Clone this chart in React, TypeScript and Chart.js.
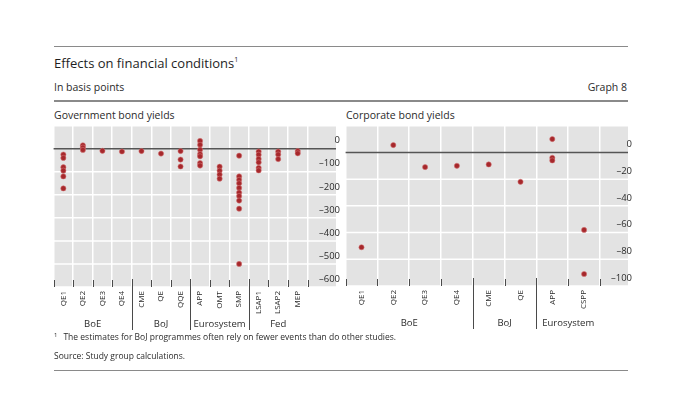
import React, { useEffect, useRef } from 'react';
import { Chart, registerables } from 'chart.js';

Chart.register(...registerables);

const FONT = '"Open Sans", "Noto Sans", sans-serif';
const TEXT = '#2b2b2b';

// ---- Government bond yields ----
const govCategories = ['QE1', 'QE2', 'QE3', 'QE4', 'CME', 'QE', 'QQE', 'APP', 'OMT', 'SMP', 'LSAP1', 'LSAP2', 'MEP'];
const govGroups = ['BoE', 'BoJ', 'Eurosystem', 'Fed'];
const govGroupSizes = [4, 3, 3, 3];
const govQE1 = [-25, -40, -80, -95, -120, -172];
const govQE2 = [15, 5, -5];
const govQE3 = [-9];
const govQE4 = [-12];
const govCME = [-10];
const govBoJQE = [-21];
const govQQE = [-10, -47, -77];
const govAPP = [34, 17, -4, -23, -33, -62, -73];
const govOMT = [-78, -95, -112, -130];
const govSMP = [-30, -120, -135, -150, -170, -190, -205, -225, -260, -500];
const govLSAP1 = [-12, -26, -44, -59, -83, -94];
const govLSAP2 = [-12, -25, -45];
const govMEP = [-10, -20];
const govEstimates = [govQE1, govQE2, govQE3, govQE4, govCME, govBoJQE, govQQE, govAPP, govOMT, govSMP, govLSAP1, govLSAP2, govMEP];
const govYMin = -600;
const govYMax = 100;
const govYStep = 100;

// ---- Corporate bond yields ----
const corpCategories = ['QE1', 'QE2', 'QE3', 'QE4', 'CME', 'QE', 'APP', 'CSPP'];
const corpGroups = ['BoE', 'BoJ', 'Eurosystem'];
const corpGroupSizes = [4, 2, 2];
const corpQE1 = [-71];
const corpQE2 = [5.5];
const corpQE3 = [-11];
const corpQE4 = [-10];
const corpCME = [-9];
const corpBoJQE = [-22];
const corpAPP = [10, -4, -6];
const corpCSPP = [-58, -91];
const corpEstimates = [corpQE1, corpQE2, corpQE3, corpQE4, corpCME, corpBoJQE, corpAPP, corpCSPP];
const corpYMin = -100;
const corpYMax = 20;
const corpYStep = 20;

const fmt = (v: number, max: number) => {
  if (v === max) return '';
  if (v < 0) return '\u2013' + Math.abs(v);
  return String(v);
};

const decorPlugin = {
  id: 'panelDecor',
  beforeDraw(chart: any, _args: any, opts: any) {
    const { ctx, chartArea: a } = chart;
    ctx.save();
    ctx.fillStyle = '#e3e3e3';
    ctx.fillRect(a.left, a.top, opts.bgRight - a.left, a.bottom - a.top);
    ctx.restore();
  },
  beforeDatasetsDraw(chart: any, _args: any, opts: any) {
    const { ctx, chartArea: a } = chart;
    const x = chart.scales.x;
    const y = chart.scales.y;
    ctx.save();
    ctx.lineWidth = 1.5;
    ctx.strokeStyle = '#ffffff';
    y.ticks.forEach((t: any) => {
      if (t.value === 0) return;
      const py = y.getPixelForValue(t.value);
      ctx.beginPath();
      ctx.moveTo(a.left, py);
      ctx.lineTo(opts.bgRight, py);
      ctx.stroke();
    });
    const pz = y.getPixelForValue(0);
    ctx.strokeStyle = '#555555';
    ctx.lineWidth = 1.5;
    ctx.beginPath();
    ctx.moveTo(a.left, pz);
    ctx.lineTo(opts.bgRight, pz);
    ctx.stroke();

    // boundary tick marks
    const n = x.ticks.length;
    const half = (x.getPixelForValue(1) - x.getPixelForValue(0)) / 2;
    const boundary = (i: number) => (i === n ? x.getPixelForValue(n - 1) + half : x.getPixelForValue(i) - half);
    ctx.strokeStyle = '#4a4a4a';
    ctx.lineWidth = 1;
    for (let i = 0; i <= n; i++) {
      const px = Math.round(boundary(i)) + 0.5;
      ctx.beginPath();
      ctx.moveTo(px, a.bottom - 7);
      ctx.lineTo(px, a.bottom);
      ctx.stroke();
    }
    // group separators and labels
    let idx = 0;
    ctx.font = `9.5px ${FONT}`;
    ctx.fillStyle = TEXT;
    ctx.textAlign = 'center';
    ctx.textBaseline = 'middle';
    opts.groupSizes.forEach((size: number, gi: number) => {
      const start = boundary(idx);
      const end = boundary(idx + size);
      if (gi > 0) {
        const px = Math.round(start) + 0.5;
        ctx.beginPath();
        ctx.moveTo(px, a.bottom - 8);
        ctx.lineTo(px, a.bottom + opts.sepLen);
        ctx.stroke();
      }
      ctx.fillText(opts.groupNames[gi], (start + end) / 2, a.bottom + opts.groupLabelY);
      idx += size;
    });
    ctx.restore();
  },
};

function buildConfig(
  categories: string[],
  estimates: number[][],
  groupNames: string[],
  groupSizes: number[],
  yMin: number,
  yMax: number,
  yStep: number,
  xHeight: number,
  yWidth: number,
) {
  const points: { x: string; y: number }[] = [];
  categories.forEach((c, i) => estimates[i].forEach((v) => points.push({ x: c, y: v })));
  return {
    type: 'scatter' as const,
    data: {
      labels: categories,
      datasets: [
        {
          data: points,
          backgroundColor: '#a6282c',
          borderColor: 'rgba(214,120,120,0.55)',
          borderWidth: 1,
          pointRadius: 2.6,
          pointHoverRadius: 2.6,
        },
      ],
    },
    options: {
      animation: false,
      responsive: false,
      maintainAspectRatio: false,
      events: [],
      layout: { padding: { left: 2, top: 0, right: 0, bottom: 0 } },
      plugins: {
        legend: { display: false },
        tooltip: { enabled: false },
        panelDecor: { bgRight: 286, groupSizes, groupNames, sepLen: 43, groupLabelY: 37 },
      },
      scales: {
        x: {
          type: 'category',
          labels: categories,
          offset: true,
          grid: { display: true, offset: true, color: '#ffffff', lineWidth: 1.5, drawTicks: false },
          border: { display: false },
          ticks: {
            autoSkip: false,
            maxRotation: 90,
            minRotation: 90,
            padding: 4,
            color: TEXT,
            font: { family: FONT, size: 8 },
          },
          afterFit: (s: any) => {
            s.height = xHeight;
          },
        },
        y: {
          position: 'right',
          min: yMin,
          max: yMax,
          grid: { display: false, drawTicks: false },
          border: { display: false },
          ticks: {
            stepSize: yStep,
            crossAlign: 'far',
            labelOffset: -8,
            padding: 2,
            color: TEXT,
            font: { family: FONT, size: 9.5 },
            callback: (v: any) => fmt(Number(v), yMax),
          },
          afterFit: (s: any) => {
            s.width = yWidth;
          },
        },
      },
    },
    plugins: [decorPlugin],
  };
}

function Panel(props: {
  left: number;
  categories: string[];
  estimates: number[][];
  groupNames: string[];
  groupSizes: number[];
  yMin: number;
  yMax: number;
  yStep: number;
  xHeight: number;
  yWidth: number;
}) {
  const ref = useRef<HTMLCanvasElement>(null);
  useEffect(() => {
    if (!ref.current) return;
    const cfg: any = buildConfig(
      props.categories,
      props.estimates,
      props.groupNames,
      props.groupSizes,
      props.yMin,
      props.yMax,
      props.yStep,
      props.xHeight,
      props.yWidth,
    );
    const chart = new Chart(ref.current, cfg);
    return () => chart.destroy();
  }, []);
  return (
    <div style={{ position: 'absolute', left: props.left, top: 118, width: 290, height: 220 }}>
      <canvas ref={ref} width={290} height={220} style={{ width: 290, height: 220, display: 'block' }} />
    </div>
  );
}

const rule = (top: number): React.CSSProperties => ({
  position: 'absolute',
  left: 54,
  top,
  width: 574,
  height: 1.5,
  background: '#8a8a8a',
});

const txt = (left: number, top: number, size: number, extra: React.CSSProperties = {}): React.CSSProperties => ({
  position: 'absolute',
  left,
  top,
  fontSize: size,
  lineHeight: '16px',
  whiteSpace: 'nowrap',
  color: TEXT,
  ...extra,
});

export default function App() {
  return (
    <div
      style={{
        position: 'absolute',
        left: 0,
        top: 0,
        width: 680,
        height: 399,
        background: '#ffffff',
        fontFamily: FONT,
        overflow: 'hidden',
      }}
    >
      <div style={rule(45.5)} />
      <div style={txt(54, 55, 13, { color: '#1e1e1e' })}>
        Effects on financial conditions<sup style={{ fontSize: 7, verticalAlign: 'top', position: 'relative', top: -3 }}>1</sup>
      </div>
      <div style={txt(54, 79, 10.5)}>In basis points</div>
      <div style={txt(0, 79, 10.5, { width: 627, textAlign: 'right' })}>Graph 8</div>
      <div style={rule(100)} />
      <div style={txt(54, 107, 10.5)}>Government bond yields</div>
      <div style={txt(346, 107, 10.5)}>Corporate bond yields</div>

      <Panel
        left={50}
        categories={govCategories}
        estimates={govEstimates}
        groupNames={govGroups}
        groupSizes={govGroupSizes}
        yMin={govYMin}
        yMax={govYMax}
        yStep={govYStep}
        xHeight={51}
        yWidth={32.5}
      />
      <Panel
        left={342}
        categories={corpCategories}
        estimates={corpEstimates}
        groupNames={corpGroups}
        groupSizes={corpGroupSizes}
        yMin={corpYMin}
        yMax={corpYMax}
        yStep={corpYStep}
        xHeight={52}
        yWidth={32}
      />

      <div style={txt(54, 329, 8.5)}>
        <span style={{ fontSize: 6, position: 'relative', top: -3, marginRight: 6 }}>1</span>
        The estimates for BoJ programmes often rely on fewer events than do other studies.
      </div>
      <div style={txt(54, 348, 8.5)}>Source: Study group calculations.</div>
      <div style={rule(369.5)} />
    </div>
  );
}
